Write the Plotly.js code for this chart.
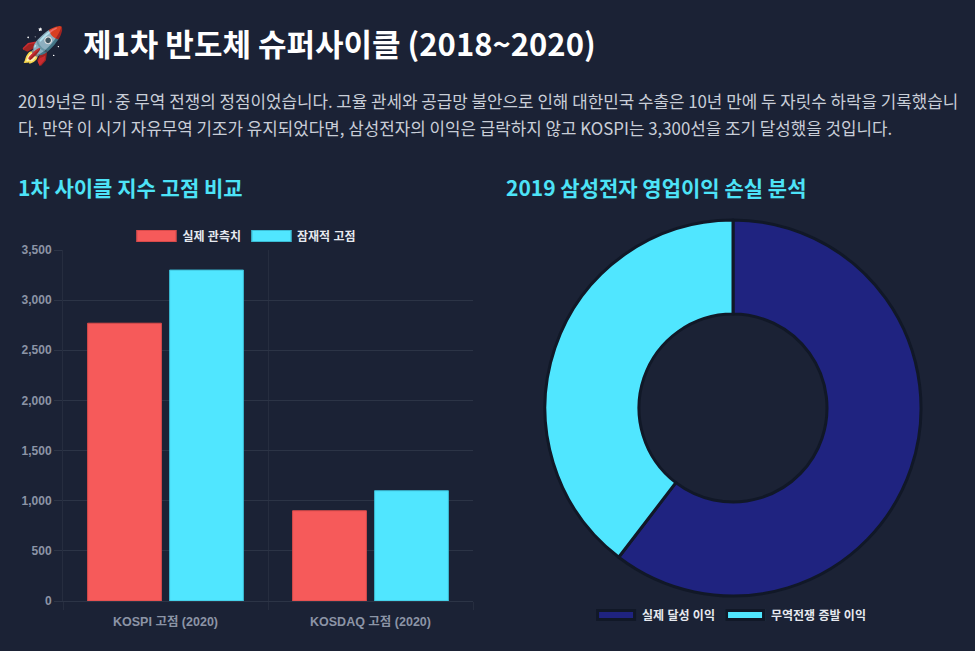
<!DOCTYPE html>
<html>
<head>
<meta charset="utf-8">
<script src="https://cdn.plot.ly/plotly-3.0.1.min.js"></script>
<style>
  html, body { margin: 0; padding: 0; background: #1b2235; width: 975px; height: 651px; overflow: hidden; }
  body { font-family: "Noto Sans CJK KR", "Noto Sans", sans-serif; color: #e6e9ef; position: relative; }
  #title { position: absolute; left: 20px; top: 16px; font-size: 31px; font-weight: 700; color: #ffffff; white-space: nowrap; display: flex; align-items: center; }
  #title .icon { font-size: 36px; margin-right: 18px; }
  #desc { position: absolute; left: 18px; top: 87px; width: 952px; font-size: 16.85px; line-height: 27px; color: #c9ced8; word-break: break-all; }
  .h2 { position: absolute; top: 172px; font-size: 21px; font-weight: 700; color: #4de3f7; white-space: nowrap; }
  #barChart { position: absolute; left: 0; top: 210px; width: 490px; height: 441px; }
  #pieChart { position: absolute; left: 490px; top: 210px; width: 485px; height: 441px; }
  .legend { position: absolute; display: flex; gap: 10px; font-family: "Liberation Sans", "Noto Sans CJK KR", sans-serif; font-size: 12px; font-weight: 700; color: #e6e9ef; white-space: nowrap; transform: translateX(-50%); }
  .legend span.item { display: flex; align-items: center; gap: 6px; }
  .legend span.box { display: inline-block; width: 40px; height: 12px; box-sizing: border-box; }
</style>
</head>
<body>
<div id="title"><span class="icon">🚀</span><span>제1차 반도체 슈퍼사이클 (2018~2020)</span></div>
<div id="desc">2019년은 미·중 무역 전쟁의 정점이었습니다. 고율 관세와 공급망 불안으로 인해 대한민국 수출은 10년 만에 두 자릿수 하락을 기록했습니다. 만약 이 시기 자유무역 기조가 유지되었다면, 삼성전자의 이익은 급락하지 않고 KOSPI는 3,300선을 조기 달성했을 것입니다.</div>
<div class="h2" style="left:18px;">1차 사이클 지수 고점 비교</div>
<div class="h2" style="left:506px;">2019 삼성전자 영업이익 손실 분석</div>
<div id="barChart"></div>
<div id="pieChart"></div>
<div class="legend" id="barLegend" style="left:246px; top:227px;"></div>
<div class="legend" id="pieLegend" style="left:731px; top:606px;"></div>
<script>
  // bar chart data
  var indexNames = ['KOSPI 고점 (2020)', 'KOSDAQ 고점 (2020)'];
  var actualPeak = [2770, 900];
  var potentialPeak = [3300, 1100];
  var barSeries = ['실제 관측치', '잠재적 고점'];
  var yTicks = [0, 500, 1000, 1500, 2000, 2500, 3000, 3500];

  // donut data
  var profitLabels = ['실제 달성 이익', '무역전쟁 증발 이익'];
  var profitShare = [60.4, 39.6];

  var red = '#f65a5a';
  var cyan = '#50e6ff';
  var navy = '#1f2380';
  var gridColor = '#2c3446';
  var tickColor = '#8c94a6';

  var trace1 = {
    x: indexNames,
    y: actualPeak,
    name: barSeries[0],
    type: 'bar',
    marker: { color: red, line: { color: '#d94a4a', width: 1 } },
    hoverinfo: 'x+y'
  };

  var trace2 = {
    x: indexNames,
    y: potentialPeak,
    name: barSeries[1],
    type: 'bar',
    marker: { color: cyan, line: { color: '#3bbcd4', width: 1 } },
    hoverinfo: 'x+y'
  };

  var barLayout = {
    paper_bgcolor: 'rgba(0,0,0,0)',
    plot_bgcolor: 'rgba(0,0,0,0)',
    margin: { l: 63, r: 17, t: 40, b: 50 },
    showlegend: false,
    barmode: 'group',
    bargap: 0.2,
    bargroupgap: 0.1,
    font: { family: 'Liberation Sans, Noto Sans CJK KR, sans-serif', size: 12, color: tickColor },
    xaxis: {
      type: 'category',
      tickson: 'boundaries',
      showgrid: true,
      gridcolor: '#262d3f',
      ticks: 'outside',
      ticklen: 8,
      tickcolor: '#262d3f',
      ticklabelstandoff: 9,
      showline: true,
      linecolor: gridColor,
      tickfont: { size: 12.5, color: tickColor, weight: 700 },
      zeroline: false
    },
    yaxis: {
      range: [0, 3500],
      tickvals: yTicks,
      tickformat: ',',
      showgrid: true,
      gridcolor: gridColor,
      ticks: 'outside',
      ticklen: 8,
      tickcolor: gridColor,
      showline: true,
      linecolor: '#262d3f',
      zeroline: false,
      tickfont: { size: 12, color: tickColor, weight: 700 }
    }
  };

  Plotly.newPlot('barChart', [trace1, trace2], barLayout, { displayModeBar: false, staticPlot: true });

  var donut = {
    type: 'pie',
    labels: profitLabels,
    values: profitShare,
    hole: 0.5,
    sort: false,
    direction: 'clockwise',
    rotation: 0,
    textinfo: 'none',
    marker: { colors: [navy, cyan], line: { color: '#111827', width: 3 } }
  };

  var pieLayout = {
    paper_bgcolor: 'rgba(0,0,0,0)',
    plot_bgcolor: 'rgba(0,0,0,0)',
    margin: { l: 55, r: 54, t: 10, b: 55 },
    showlegend: false
  };

  Plotly.newPlot('pieChart', [donut], pieLayout, { displayModeBar: false, staticPlot: true });

  // legends built from the series names and colours
  function buildLegend(id, names, colors, border) {
    var el = document.getElementById(id);
    names.forEach(function (n, i) {
      var item = document.createElement('span');
      item.className = 'item';
      var box = document.createElement('span');
      box.className = 'box';
      box.style.background = colors[i];
      box.style.border = border[i];
      item.appendChild(box);
      item.appendChild(document.createTextNode(n));
      el.appendChild(item);
    });
  }
  buildLegend('barLegend', barSeries, [red, cyan], ['1px solid #d94a4a', '1px solid #3bbcd4']);
  buildLegend('pieLegend', profitLabels, [navy, cyan], ['3px solid #111827', '3px solid #111827']);
</script>
</body>
</html>
